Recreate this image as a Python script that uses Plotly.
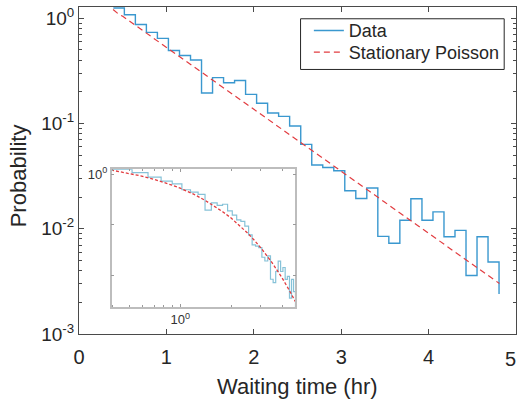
import plotly.graph_objects as go
import numpy as np

# ---- data ----
bin_edges = [0.393, 0.519, 0.645, 0.771, 0.897, 1.023, 1.150, 1.276, 1.402, 1.528,
             1.654, 1.780, 1.906, 2.032, 2.158, 2.284, 2.410, 2.537, 2.663, 2.789,
             2.915, 3.041, 3.167, 3.293, 3.419, 3.545, 3.671, 3.797, 3.924, 4.050,
             4.176, 4.302, 4.428, 4.554, 4.680, 4.806]
prob = [1.25, 1.08, 0.873, 0.734, 0.644, 0.494, 0.443, 0.401, 0.195, 0.273,
        0.244, 0.256, 0.189, 0.156, 0.126, 0.117, 0.0948, 0.0634, 0.0403, 0.0382,
        0.0356, 0.0230, 0.0194, 0.0244, 0.00847, 0.00729, 0.01205, 0.0193, 0.01205, 0.01446,
        0.0084, 0.00966, 0.0036, 0.0084, 0.00483, 0.0024]
poisson_t = [0.39, 0.45, 0.5, 0.6, 0.7, 0.8, 0.9, 1.0, 1.2, 1.4, 1.6, 1.8, 2.0,
             2.25, 2.5, 2.75, 3.0, 3.5, 4.0, 4.5, 4.81]
poisson_p = [1.211, 1.10, 1.043, 0.910, 0.794, 0.693, 0.604, 0.530, 0.404, 0.307,
             0.234, 0.178, 0.1365, 0.0973, 0.0693, 0.0494, 0.0352, 0.01784, 0.00906,
             0.0046, 0.00302]
x_ticks = [0, 1, 2, 3, 4, 5]
y_ticks = [0.001, 0.01, 0.1, 1]
y_ticktext = ['10<sup>-3</sup>', '10<sup>-2</sup>', '10<sup>-1</sup>', '10<sup>0</sup>']
inset_x_ticks = [1]
inset_x_ticktext = ['10<sup>0</sup>']
inset_y_ticks = [0.01, 0.1, 1]
inset_y_ticktext = ['', '', '10<sup>0</sup>']

BLUE = '#3a98cf'
RED = '#e23c40'
AX = '#4a4a4a'
TXT = '#262626'
FONT = 'Liberation Sans, Arial, sans-serif'

fig = go.Figure()
fig.add_trace(go.Scatter(x=bin_edges, y=prob, mode='lines', line=dict(shape='hv', color=BLUE, width=1.4),
                         name='Data', legend='legend'))
fig.add_trace(go.Scatter(x=poisson_t, y=poisson_p, mode='lines', line=dict(color=RED, width=1.2, dash='6px,4px'),
                         name='Stationary Poisson', legend='legend2'))
# inset
fig.add_trace(go.Scatter(x=bin_edges, y=prob, mode='lines', line=dict(shape='hv', color='#86c2d8', width=1.2),
                         xaxis='x2', yaxis='y2', showlegend=False))
fig.add_trace(go.Scatter(x=poisson_t, y=poisson_p, mode='lines', line=dict(color=RED, width=1.3, dash='3px,2px'),
                         xaxis='x2', yaxis='y2', showlegend=False))

fig.update_layout(
    width=520, height=405,
    margin=dict(l=79, r=3, t=3, b=71),
    paper_bgcolor='white', plot_bgcolor='white',
    font=dict(family=FONT, color=TXT, size=20),
    xaxis=dict(range=[0, 5], tickmode='array', tickvals=x_ticks, ticks='inside', ticklen=5,
               tickcolor=AX, showline=True, linecolor=AX, linewidth=1, mirror='ticks',
               showgrid=False, zeroline=False, tickfont=dict(size=20), domain=[0, 1],
               ticklabelstandoff=5),
    yaxis=dict(type='log', range=[-3, 0.107], tickmode='array', tickvals=y_ticks, ticktext=y_ticktext,
               ticks='inside', ticklen=5, tickcolor=AX, showline=True, linecolor=AX, linewidth=1,
               mirror='ticks', showgrid=False, zeroline=False, tickfont=dict(size=19),
               minor=dict(ticks='inside', ticklen=3, tickcolor=AX, showgrid=False, dtick='D1'),
               domain=[0, 1]),
    xaxis2=dict(type='log', range=[np.log10(0.393), np.log10(4.806)], tickmode='array',
                tickvals=inset_x_ticks, ticktext=inset_x_ticktext,
                domain=[0.0747, 0.4954], anchor='y2', ticks='inside', ticklen=3, tickcolor='#9a9a9a',
                showline=True, linecolor='#bdbdbd', linewidth=1.5, mirror='ticks', showgrid=False,
                zeroline=False, tickfont=dict(size=13, color='#333333'),
                minor=dict(ticks='inside', ticklen=2, tickcolor='#9a9a9a', showgrid=False, dtick='D1')),
    yaxis2=dict(type='log', range=[np.log10(0.0024), np.log10(1.25)], tickmode='array',
                tickvals=inset_y_ticks, ticktext=inset_y_ticktext,
                domain=[0.0825, 0.5036], anchor='x2', ticks='inside', ticklen=3, tickcolor='#9a9a9a',
                showline=True, linecolor='#bdbdbd', linewidth=1.5, mirror='ticks', showgrid=False,
                zeroline=False, tickfont=dict(size=13, color='#333333')),
    legend=dict(x=0.526, y=0.984, xanchor='left', yanchor='top', bgcolor='rgba(0,0,0,0)',
                borderwidth=0, font=dict(size=18, color=TXT)),
    legend2=dict(x=0.526, y=0.9175, xanchor='left', yanchor='top', bgcolor='rgba(0,0,0,0)',
                 borderwidth=0, font=dict(size=18, color=TXT)),
    showlegend=True,
    shapes=[dict(type='rect', xref='paper', yref='paper', x0=0.507, x1=0.973, y0=0.809, y1=0.964,
                 line=dict(color=TXT, width=1), fillcolor='white', layer='above')],
    annotations=[
        dict(text='5', x=5, xref='x', y=0, yref='paper', yshift=-25, xshift=2, showarrow=False,
             font=dict(size=20, color=TXT), xanchor='right', yanchor='middle'),
        dict(text='Waiting time (hr)', x=0.5, xref='paper', y=-0.162, yref='paper',
             showarrow=False, font=dict(size=22, color=TXT), xanchor='center', yanchor='middle'),
        dict(text='Probability', x=-0.139, xref='paper', y=0.483, yref='paper', textangle=-90,
             showarrow=False, font=dict(size=22, color=TXT), xanchor='center', yanchor='middle'),
    ],
)

fig.write_html('out.html')
